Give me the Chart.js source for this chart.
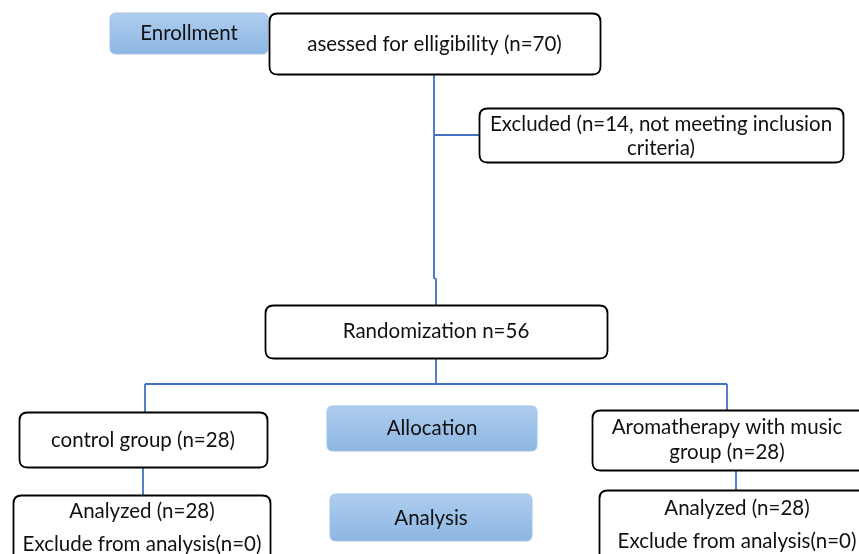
<!DOCTYPE html>
<html>
<head>
<meta charset="utf-8">
<script src="https://cdn.jsdelivr.net/npm/chart.js@4.4.1/dist/chart.umd.min.js"></script>
<style>
html,body{margin:0;padding:0;background:#fff;}
#wrap{width:859px;height:554px;position:relative;}
</style>
</head>
<body>
<div id="wrap"><canvas id="c" width="859" height="554"></canvas></div>
<script>
// ---- content (text of each node) ----
const stageLabels = ["Enrollment", "Allocation", "Analysis"];
const nodeLabels = [
  ["asessed for elligibility (n=70)"],
  ["Excluded (n=14, not meeting inclusion", "criteria)"],
  ["Randomization n=56"],
  ["control group (n=28)"],
  ["Aromatherapy with music", "group (n=28)"],
  ["Analyzed (n=28)", "Exclude from analysis(n=0)"],
  ["Analyzed (n=28)", "Exclude from analysis(n=0)"]
];
// participant counts shown in the nodes
const counts = [70, 14, 56, 28, 28, 28, 28];

// ---- layout (drawing units on a 859 x 554 grid) ----
const stageBoxes = [
  {x0:110, y0:13, x1:268, y1:54, ty:[33]},
  {x0:327, y0:406, x1:537, y1:451, ty:[428]},
  {x0:330, y0:494, x1:532, y1:541, ty:[518]}
];
const nodeBoxes = [
  {x0:269, y0:13, x1:600, y1:74, ty:[44]},
  {x0:479, y0:108, x1:843, y1:162, ty:[124,148]},
  {x0:265, y0:305, x1:607, y1:358, ty:[331]},
  {x0:19, y0:412, x1:267, y1:467, ty:[440]},
  {x0:592, y0:410, x1:870, y1:470, ty:[427,452], tx:727},
  {x0:13, y0:495, x1:270, y1:580, ty:[511,544], tx:142},
  {x0:599, y0:490, x1:880, y1:580, ty:[508,541], tx:737}
];
const connectors = [
  [{x:434,y:74},{x:434,y:278},{x:436,y:279},{x:436,y:305}],
  [{x:434,y:135},{x:479,y:135}],
  [{x:436,y:358},{x:436,y:384}],
  [{x:145,y:384},{x:727,y:384}],
  [{x:145,y:384},{x:145,y:412}],
  [{x:727,y:384},{x:727,y:410}],
  [{x:143,y:467},{x:143,y:495}],
  [{x:736,y:470},{x:736,y:490}]
];

const FONT = "Lato, 'Liberation Sans', sans-serif";
const FSIZE = '20.5px ';

function roundRect(ctx, x, y, w, h, r){
  ctx.beginPath();
  ctx.moveTo(x+r, y);
  ctx.lineTo(x+w-r, y);
  ctx.quadraticCurveTo(x+w, y, x+w, y+r);
  ctx.lineTo(x+w, y+h-r);
  ctx.quadraticCurveTo(x+w, y+h, x+w-r, y+h);
  ctx.lineTo(x+r, y+h);
  ctx.quadraticCurveTo(x, y+h, x, y+h-r);
  ctx.lineTo(x, y+r);
  ctx.quadraticCurveTo(x, y, x+r, y);
  ctx.closePath();
}

const flowPlugin = {
  id: 'flow',
  afterDatasetsDraw(chart){
    const ctx = chart.ctx;
    const xs = chart.scales.x, ys = chart.scales.y;
    const px = v => xs.getPixelForValue(v);
    const py = v => ys.getPixelForValue(v);
    ctx.save();
    // stage boxes (blue)
    stageBoxes.forEach((b, i) => {
      const x = px(b.x0), y = py(b.y0), w = px(b.x1)-x, h = py(b.y1)-y;
      const g = ctx.createLinearGradient(0, y, 0, y+h);
      g.addColorStop(0, '#aecdef');
      g.addColorStop(1, '#8db6e2');
      roundRect(ctx, x, y, w, h, 6);
      ctx.fillStyle = g; ctx.fill();
      ctx.lineWidth = 1; ctx.strokeStyle = '#a3c3e6'; ctx.stroke();
      ctx.fillStyle = '#111';
      ctx.font = FSIZE + FONT;
      ctx.textAlign = 'center'; ctx.textBaseline = 'middle';
      ctx.fillText(stageLabels[i], x + w/2, py(b.ty[0]));
    });
    // node boxes (white, black outline)
    nodeBoxes.forEach((b, i) => {
      const x = px(b.x0), y = py(b.y0), w = px(b.x1)-x, h = py(b.y1)-y;
      roundRect(ctx, x+0.5, y+0.5, w, h, 8);
      ctx.fillStyle = '#fff'; ctx.fill();
      ctx.lineWidth = 1.8; ctx.strokeStyle = '#000'; ctx.stroke();
      ctx.fillStyle = '#111';
      ctx.font = FSIZE + FONT;
      ctx.textAlign = 'center'; ctx.textBaseline = 'middle';
      const cx = b.tx !== undefined ? px(b.tx) : x + w/2;
      nodeLabels[i].forEach((t, k) => ctx.fillText(t, cx, py(b.ty[k])));
    });
    ctx.restore();
  }
};

const datasets = connectors.map(pts => ({
  type: 'line',
  data: pts,
  borderColor: '#4472c4',
  borderWidth: 1.8,
  pointRadius: 0,
  tension: 0,
  fill: false
}));

new Chart(document.getElementById('c'), {
  type: 'scatter',
  data: { datasets },
  options: {
    responsive: false,
    animation: false,
    showLine: true,
    layout: { padding: 0 },
    plugins: { legend: { display: false }, tooltip: { enabled: false } },
    scales: {
      x: { type: 'linear', min: 0, max: 859, display: false },
      y: { type: 'linear', min: 0, max: 554, reverse: true, display: false }
    }
  },
  plugins: [flowPlugin]
});
</script>
</body>
</html>
